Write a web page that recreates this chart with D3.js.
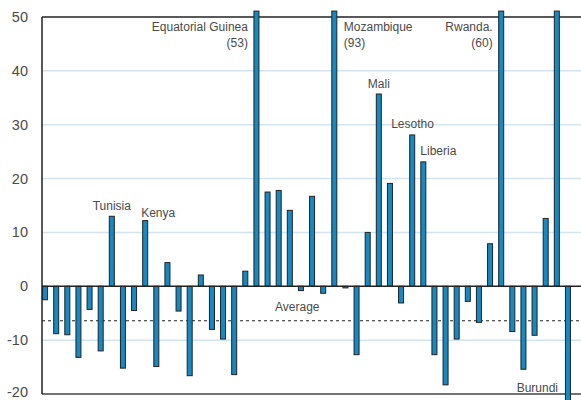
<!DOCTYPE html>
<html>
<head>
<meta charset="utf-8">
<script src="https://cdn.jsdelivr.net/npm/d3@7"></script>
<style>
  body { margin: 0; background: #fff; }
  svg text { font-family: "Liberation Sans", Arial, sans-serif; fill: #4a4a4a; }
</style>
</head>
<body>
<svg id="chart" width="581" height="400"></svg>
<script>
// one value per country, in chart order
const values = [
  -2.5, -8.8, -9, -13.2, -4.3, -12, 13, -15.2, -4.5, 12.2,
  -14.9, 4.4, -4.6, -16.6, 2.1, -8, -9.8, -16.4, 2.8, 53,
  17.5, 17.8, 14.1, -0.8, 16.7, -1.3, 93, -0.3, -12.7, 10,
  35.7, 19.1, -3.1, 28.1, 23.1, -12.7, -18.3, -9.8, -2.8, -6.7,
  7.9, 60, -8.4, -15.4, -9.1, 12.6, 55, -25
];
const average = -6.4;
const yTicks = [-20, -10, 0, 10, 20, 30, 40, 50];

// labels: bar index, text lines, anchor
const labels = [
  { i: 6, lines: ["Tunisia"], anchor: "middle", dx: 0, dy: -6 },
  { i: 9, lines: ["Kenya"], anchor: "start", dx: -4, dy: -4 },
  { i: 19, lines: ["Equatorial Guinea", "(53)"], anchor: "end", at: 12 },
  { i: 26, lines: ["Mozambique", "(93)"], anchor: "start", at: 12 },
  { i: 41, lines: ["Rwanda.", "(60)"], anchor: "end", at: 12 },
  { i: 30, lines: ["Mali"], anchor: "middle", dx: 0, dy: -6 },
  { i: 33, lines: ["Lesotho"], anchor: "start", dx: -21, dy: -7 },
  { i: 34, lines: ["Liberia"], anchor: "start", dx: -3, dy: -7 }
];

const svg = d3.select("#chart");
const mLeft = 42, mRight = 571, mTop = 17, mBottom = 394;

const x = d3.scaleBand().domain(d3.range(values.length)).range([mLeft, mRight]).paddingInner(0.55).paddingOuter(0.05);
const y = d3.scaleLinear().domain([-20, 50]).range([mBottom, mTop]);

// gridlines
svg.append("g").selectAll("line")
  .data(yTicks.filter(d => d !== 0 && d !== 50 && d !== -20))
  .join("line")
  .attr("x1", mLeft).attr("x2", 581)
  .attr("y1", d => y(d)).attr("y2", d => y(d))
  .attr("stroke", "#d4e3f0").attr("stroke-width", 1.5);

// average line
svg.append("line")
  .attr("x1", mLeft).attr("x2", 581)
  .attr("y1", y(average)).attr("y2", y(average))
  .attr("stroke", "#222").attr("stroke-width", 1).attr("stroke-dasharray", "3,3");

// top border and bottom line
svg.append("line").attr("x1", mLeft).attr("x2", 581).attr("y1", y(50)).attr("y2", y(50))
  .attr("stroke", "#222").attr("stroke-width", 1.5);
svg.append("line").attr("x1", mLeft).attr("x2", 581).attr("y1", y(-20)).attr("y2", y(-20))
  .attr("stroke", "#444").attr("stroke-width", 1.5);

// bars, capped just beyond the plot
const cap = v => Math.max(-21.5, Math.min(51.1, v));
svg.append("g").selectAll("rect")
  .data(values)
  .join("rect")
  .attr("x", (d, i) => x(i))
  .attr("width", x.bandwidth())
  .attr("y", d => y(Math.max(0, cap(d))))
  .attr("height", d => Math.abs(y(cap(d)) - y(0)))
  .attr("fill", "#1589c3")
  .attr("stroke", "#222")
  .attr("stroke-width", 1);

// zero line
svg.append("line").attr("x1", mLeft).attr("x2", 581).attr("y1", y(0)).attr("y2", y(0))
  .attr("stroke", "#222").attr("stroke-width", 1.5);

// y axis
svg.append("line").attr("x1", mLeft).attr("x2", mLeft).attr("y1", y(50)).attr("y2", y(-20))
  .attr("stroke", "#222").attr("stroke-width", 1.5);
svg.append("g").selectAll("text")
  .data(yTicks)
  .join("text")
  .attr("x", 28).attr("y", d => d === -20 ? y(d) + 3 : y(d) + 5)
  .attr("text-anchor", "end")
  .attr("font-size", 14.5)
  .text(d => d);

// country labels
labels.forEach(l => {
  const cx = x(l.i) + x.bandwidth() / 2;
  let tx, ty;
  if (l.at !== undefined) {
    tx = l.anchor === "end" ? x(l.i) - 6 : x(l.i) + x.bandwidth() + 7;
    ty = mTop + 14;
  } else {
    tx = cx + l.dx;
    ty = y(values[l.i]) + l.dy;
  }
  const t = svg.append("text").attr("x", tx).attr("y", ty)
    .attr("text-anchor", l.anchor).attr("font-size", 12);
  l.lines.forEach((s, k) => {
    t.append("tspan").attr("x", tx).attr("dy", k === 0 ? 0 : 15.5).text(s);
  });
});

svg.append("text").attr("x", 275).attr("y", y(0) + 25).attr("font-size", 12).text("Average");
svg.append("text").attr("x", 558).attr("y", 392).attr("text-anchor", "end").attr("font-size", 12).text("Burundi");
</script>
</body>
</html>
